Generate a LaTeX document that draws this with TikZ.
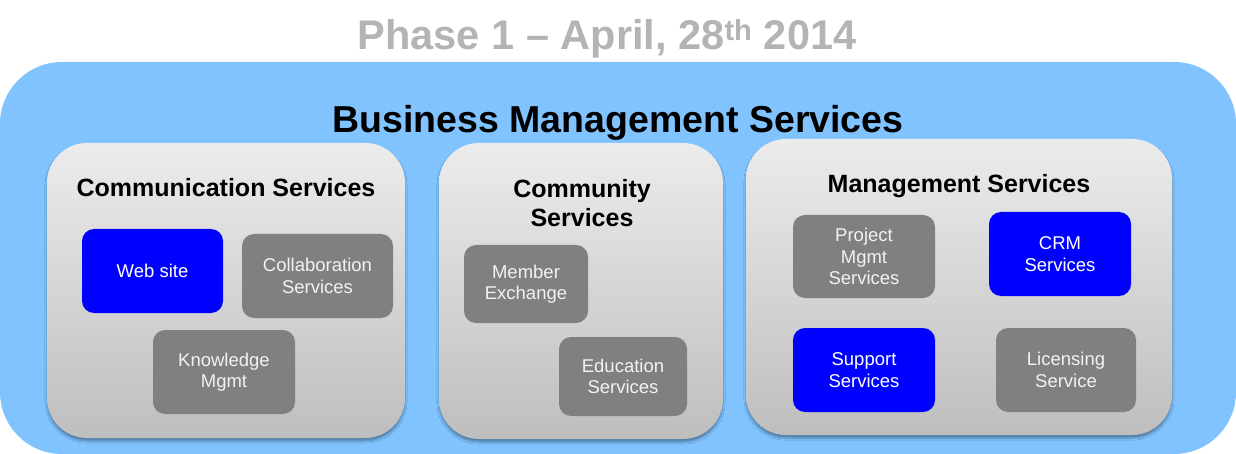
\documentclass[tikz,border=0pt]{standalone}
\usepackage{fontspec}
\setmainfont{Liberation Sans}
\usetikzlibrary{shadows.blur}
\definecolor{outerblue}{RGB}{128,195,255}
\definecolor{titlegray}{RGB}{180,180,180}
\definecolor{boxgray}{RGB}{128,128,128}
\definecolor{boxtxt}{RGB}{242,242,242}
\definecolor{gradtop}{RGB}{236,236,236}
\definecolor{gradbot}{RGB}{190,190,190}
\tikzset{
  outerbox/.style={fill=outerblue, rounded corners=62pt, inner sep=0pt},
  groupbox/.style={rounded corners=40pt, top color=gradtop, bottom color=gradbot, inner sep=0pt,
     blur shadow={shadow xshift=0pt, shadow yshift=-3pt, shadow blur steps=6, shadow opacity=35}},
  svcbox/.style={rounded corners=12pt, inner sep=0pt, align=center, font=\fontsize{18.5}{21.5}\selectfont},
  graysvc/.style={svcbox, fill=boxgray, text=boxtxt},
  bluesvc/.style={svcbox, fill=blue, text=white},
  grouptitle/.style={font=\bfseries\fontsize{25}{29}\selectfont, align=center, inner sep=0pt, anchor=base},
}
\begin{document}
\begin{tikzpicture}[x=1pt,y=-1pt]
\useasboundingbox (0,0) rectangle (1236,454);
\node[outerbox, minimum width=1236pt, minimum height=392pt] (outer) at (618,258) {};
\node[font=\bfseries\fontsize{41.5}{46}\selectfont, text=titlegray, anchor=base, inner sep=0pt] (title) at (607,50) {Phase 1 -- April, 28\textsuperscript{th} 2014};
\node[font=\bfseries\fontsize{37.5}{40}\selectfont, anchor=base, inner sep=0pt] (bms) at (618,133) {Business Management Services};

% Communication
\node[groupbox, minimum width=358pt, minimum height=295pt] (comm) at (226,290.5) {};
\node[grouptitle] (commt) at (226,197) {Communication Services};
\node[bluesvc, minimum width=141pt, minimum height=84pt] (web) at (152.5,271) {Web site};
\node[graysvc, minimum width=151pt, minimum height=84pt] (collab) at (317.5,276) {Collaboration\\Services};
\node[graysvc, minimum width=142pt, minimum height=84pt] (know) at (224,372) {Knowledge\\Mgmt};

% Community
\node[groupbox, minimum width=284pt, minimum height=296pt] (commu) at (581,291) {};
\node[grouptitle] (commut) at (582,227) {Community\\Services};
\node[graysvc, minimum width=124pt, minimum height=78pt] (member) at (526,284) {Member\\Exchange};
\node[graysvc, minimum width=128pt, minimum height=79pt] (edu) at (623,376.5) {Education\\Services};

% Management
\node[groupbox, minimum width=426pt, minimum height=296pt] (mgmt) at (959,287) {};
\node[grouptitle] (mgmtt) at (959,193) {Management Services};
\node[graysvc, minimum width=142pt, minimum height=83pt] (proj) at (864,256.5) {Project\\Mgmt\\Services};
\node[bluesvc, minimum width=142pt, minimum height=84pt] (crm) at (1060,254) {CRM\\Services};
\node[bluesvc, minimum width=142pt, minimum height=84pt] (supp) at (864,370) {Support\\Services};
\node[graysvc, minimum width=140pt, minimum height=84pt] (lic) at (1066,370) {Licensing\\Service};
\end{tikzpicture}
\end{document}
